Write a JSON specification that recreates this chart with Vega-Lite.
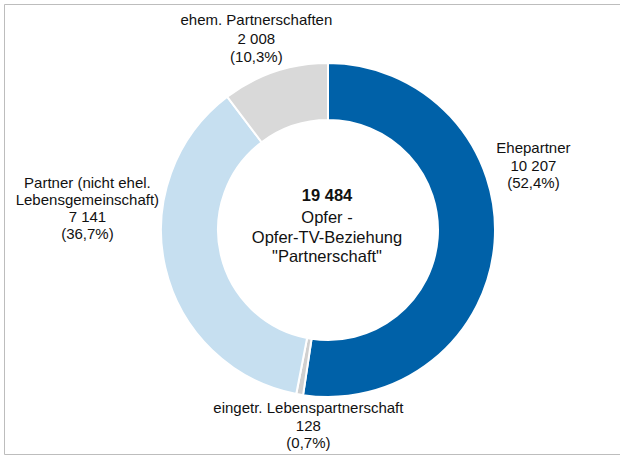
{
  "$schema": "https://vega.github.io/schema/vega-lite/v6.json",
  "autosize": {"type": "none"},
  "width": 616,
  "height": 450,
  "padding": {"left": 4, "top": 4, "right": 0, "bottom": 1},
  "background": "white",
  "view": {"stroke": "#bdbdbd", "strokeWidth": 1},
  "config": {
    "view": {"stroke": "#bdbdbd", "strokeWidth": 1},
    "text": {"font": "Liberation Sans", "color": "#111111"}
  },
  "data": {
    "values": [
      {"idx": 1, "cat": "Ehepartner", "n": 10207, "lbl": "Ehepartner\n10 207\n(52,4%)"},
      {"idx": 2, "cat": "eingetr. Lebenspartnerschaft", "n": 128, "lbl": "eingetr. Lebenspartnerschaft\n128\n(0,7%)"},
      {"idx": 3, "cat": "Partner (nicht ehel. Lebensgemeinschaft)", "n": 7141, "lbl": "Partner (nicht ehel.\nLebensgemeinschaft)\n7 141\n(36,7%)"},
      {"idx": 4, "cat": "ehem. Partnerschaften", "n": 2008, "lbl": "ehem. Partnerschaften\n2 008\n(10,3%)"}
    ]
  },
  "layer": [
    {
      "encoding": {
        "theta": {"field": "n", "type": "quantitative", "stack": true},
        "order": {"field": "idx", "type": "quantitative"},
        "detail": {"field": "cat", "type": "nominal"}
      },
      "layer": [
        {
          "mark": {"type": "arc", "innerRadius": 110, "outerRadius": 167, "stroke": "white", "strokeWidth": 2,
                   "x": {"expr": "width/2+16"}, "y": {"expr": "height/2+1"}},
          "encoding": {
            "color": {
              "field": "cat", "type": "nominal", "legend": null,
              "scale": {
                "domain": ["Ehepartner", "eingetr. Lebenspartnerschaft", "Partner (nicht ehel. Lebensgemeinschaft)", "ehem. Partnerschaften"],
                "range": ["#0061a8", "#d0d0d0", "#c6dff0", "#d9d9d9"]
              }
            }
          }
        },
        {
          "mark": {"type": "text", "radius": 203, "dx": 3, "dy": -97, "fontSize": 15, "lineHeight": 17.5, "lineBreak": "\n",
                   "align": "center", "baseline": "middle", "x": {"expr": "width/2+16"}, "y": {"expr": "height/2+1"}},
          "encoding": {"text": {"condition": {"test": "datum.cat === 'Ehepartner'", "field": "lbl", "type": "nominal"}, "value": ""}}
        },
        {
          "mark": {"type": "text", "radius": 198, "dx": 14, "dy": -17, "fontSize": 15, "lineHeight": 17.5, "lineBreak": "\n",
                   "align": "center", "baseline": "middle", "x": {"expr": "width/2+16"}, "y": {"expr": "height/2+1"}},
          "encoding": {"text": {"condition": {"test": "datum.cat === 'eingetr. Lebenspartnerschaft'", "field": "lbl", "type": "nominal"}, "value": ""}}
        },
        {
          "mark": {"type": "text", "radius": 247, "dx": 0, "dy": -103, "fontSize": 15, "lineHeight": 17, "lineBreak": "\n",
                   "align": "center", "baseline": "middle", "x": {"expr": "width/2+16"}, "y": {"expr": "height/2+1"}},
          "encoding": {"text": {"condition": {"test": "datum.cat === 'Partner (nicht ehel. Lebensgemeinschaft)'", "field": "lbl", "type": "nominal"}, "value": ""}}
        },
        {
          "mark": {"type": "text", "radius": 200, "dx": -8, "dy": -20, "fontSize": 15, "lineHeight": 18.5, "lineBreak": "\n",
                   "align": "center", "baseline": "middle", "x": {"expr": "width/2+16"}, "y": {"expr": "height/2+1"}},
          "encoding": {"text": {"condition": {"test": "datum.cat === 'ehem. Partnerschaften'", "field": "lbl", "type": "nominal"}, "value": ""}}
        }
      ]
    },
    {
      "data": {"values": [{"t": "19 484"}]},
      "mark": {"type": "text", "fontSize": 16.5, "fontWeight": "bold", "align": "center", "baseline": "middle",
               "x": {"expr": "width/2+15"}, "y": {"expr": "height/2+1"}, "dy": -34},
      "encoding": {"text": {"field": "t", "type": "nominal"}}
    },
    {
      "data": {"values": [{"t": "Opfer -\nOpfer-TV-Beziehung\n\"Partnerschaft\""}]},
      "mark": {"type": "text", "fontSize": 16.5, "lineHeight": 19.5, "lineBreak": "\n", "align": "center", "baseline": "middle",
               "x": {"expr": "width/2+15"}, "y": {"expr": "height/2+1"}, "dy": -12},
      "encoding": {"text": {"field": "t", "type": "nominal"}}
    }
  ]
}
